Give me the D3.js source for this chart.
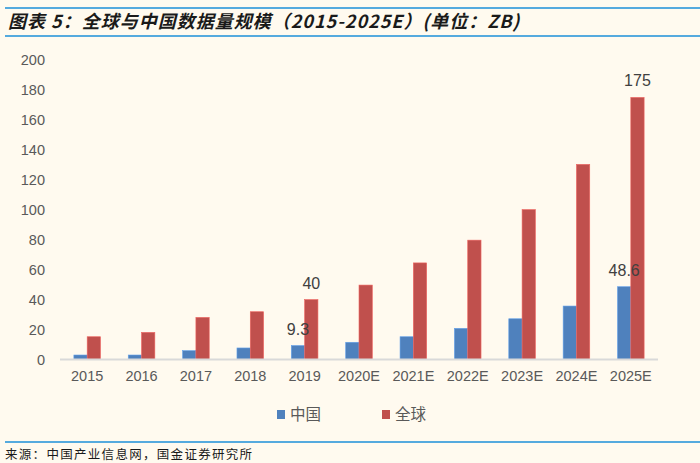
<!DOCTYPE html>
<html>
<head>
<meta charset="utf-8">
<script src="https://cdn.jsdelivr.net/npm/d3@7"></script>
<style>
  body { margin: 0; background: #fffaef; }
  svg { display: block; }
</style>
</head>
<body>
<div id="chart"></div>
<script>
// Data
const years = ['2015', '2016', '2017', '2018', '2019', '2020E', '2021E', '2022E', '2023E', '2024E', '2025E'];
const china = [3, 3, 5.9, 7.7, 9.3, 11.5, 15.2, 20.8, 27.2, 35.7, 48.6];
const world = [15.2, 18.1, 28.1, 31.9, 40, 49.7, 64.5, 79.7, 100.1, 130.3, 175];
const yTicks = [0, 20, 40, 60, 80, 100, 120, 140, 160, 180, 200];
const seriesNames = ['中国', '全球'];
const colors = ['#4f81bd', '#c0504d'];
// which values get a label: [series index, year index]
const labelled = [[0, 4], [1, 4], [0, 10], [1, 10]];

const width = 700, height = 463;
const margin = { left: 60, right: 42, top: 60, bottom: 103.5 };

const svg = d3.select('#chart').append('svg')
    .attr('width', width)
    .attr('height', height);

svg.append('rect')
    .attr('width', width)
    .attr('height', height)
    .attr('fill', '#fffaef');

// Title and rules
svg.append('line')
    .attr('x1', 5).attr('x2', width).attr('y1', 8).attr('y2', 8)
    .attr('stroke', '#1d8fd8').attr('stroke-width', 1.5);
svg.append('line')
    .attr('x1', 5).attr('x2', width).attr('y1', 36).attr('y2', 36)
    .attr('stroke', '#1d8fd8').attr('stroke-width', 1.5);
svg.append('text')
    .attr('x', 8)
    .attr('y', 28)
    .style('font-family', '"Noto Sans CJK SC", "Liberation Sans", sans-serif')
    .style('font-size', '18px')
    .style('letter-spacing', '1px')
    .style('font-weight', 'bold')
    .style('font-style', 'italic')
    .attr('fill', '#1a1a1a')
    .text('图表 5：全球与中国数据量规模（2015-2025E）(单位：ZB)');

svg.append('line')
    .attr('x1', 5).attr('x2', width).attr('y1', 442).attr('y2', 442)
    .attr('stroke', '#1d8fd8').attr('stroke-width', 1.5);
svg.append('text')
    .attr('x', 5)
    .attr('y', 459)
    .style('font-family', '"Noto Sans CJK SC", sans-serif')
    .style('font-size', '12.5px')
    .style('letter-spacing', '1.3px')
    .attr('fill', '#1a1a1a')
    .text('来源：中国产业信息网，国金证券研究所');

// Scales
const x = d3.scaleBand()
    .domain(years)
    .range([margin.left, width - margin.right])
    .paddingInner(0)
    .paddingOuter(0);

const barW = 13.3;

const y = d3.scaleLinear()
    .domain([0, 200])
    .range([height - margin.bottom, margin.top]);

// Y tick labels (no axis line, no gridlines)
const yAxis = svg.append('g')
    .attr('transform', `translate(${margin.left - 15},0)`)
    .call(d3.axisLeft(y).tickValues(yTicks).tickSize(0).tickPadding(0));
yAxis.select('.domain').remove();
yAxis.selectAll('text')
    .style('font-family', '"Liberation Sans", Arial, sans-serif')
    .style('font-size', '14.5px')
    .attr('fill', '#595959');

// Bars
const series = [china, world];
series.forEach((vals, s) => {
  svg.append('g').selectAll('rect')
    .data(vals)
    .join('rect')
      .attr('x', (d, i) => x(years[i]) + x.bandwidth() / 2 - barW + s * barW)
      .attr('y', d => y(d))
      .attr('width', barW)
      .attr('height', d => y(0) - y(d))
      .attr('fill', colors[s])
      .attr('stroke', d3.color(colors[s]).brighter(0.6))
      .attr('stroke-width', 0.6);
});

// Baseline
svg.append('line')
    .attr('x1', margin.left).attr('x2', width - margin.right)
    .attr('y1', y(0)).attr('y2', y(0))
    .attr('stroke', '#d9d9d9').attr('stroke-width', 2);

// X tick labels
const xAxis = svg.append('g')
    .attr('transform', `translate(0,${y(0) + 8})`)
    .call(d3.axisBottom(x).tickSize(0).tickPadding(0));
xAxis.select('.domain').remove();
xAxis.selectAll('text')
    .attr('dy', '0.9em')
    .style('font-family', '"Liberation Sans", Arial, sans-serif')
    .style('font-size', '14.5px')
    .attr('fill', '#595959');

// Data labels
svg.append('g').selectAll('text')
  .data(labelled)
  .join('text')
    .attr('x', d => x(years[d[1]]) + x.bandwidth() / 2 - barW / 2 + d[0] * barW)
    .attr('y', d => y(series[d[0]][d[1]]) - 11)
    .attr('text-anchor', 'middle')
    .style('font-family', '"Liberation Sans", Arial, sans-serif')
    .style('font-size', '16px')
    .attr('fill', '#404040')
    .text(d => series[d[0]][d[1]]);

// Legend
const legend = svg.append('g');
const legendX = [277, 382];
seriesNames.forEach((name, s) => {
  legend.append('rect')
    .attr('x', legendX[s])
    .attr('y', 410)
    .attr('width', 8)
    .attr('height', 9)
    .attr('fill', colors[s]);
  legend.append('text')
    .attr('x', legendX[s] + 13)
    .attr('y', 420)
    .style('font-family', '"Noto Sans CJK SC", sans-serif')
    .style('font-size', '15.5px')
    .attr('fill', '#595959')
    .text(name);
});
</script>
</body>
</html>
